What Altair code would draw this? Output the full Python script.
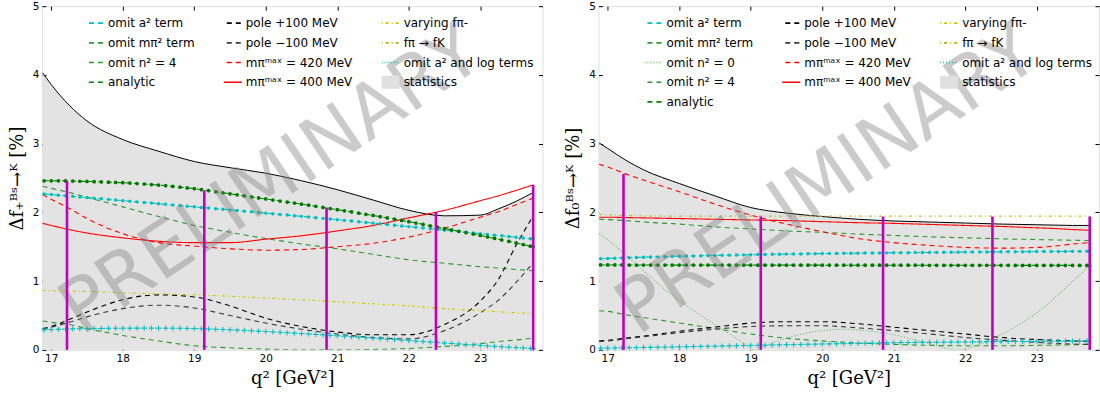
import altair as alt
import pandas as pd

# ---------------- data ----------------
Q_DENSE = [16.9, 17.0, 17.1, 17.2, 17.3, 17.4, 17.5, 17.6, 17.7, 17.8, 17.9, 18.0,
           18.1, 18.2, 18.3, 18.4, 18.5, 18.6, 18.7, 18.8, 18.9, 19.0,
           19.1, 19.2, 19.3, 19.4, 19.5, 19.6, 19.7, 19.8, 19.9, 20.0,
           20.1, 20.2, 20.3, 20.4, 20.5, 20.6, 20.7, 20.8, 20.9, 21.0,
           21.1, 21.2, 21.3, 21.4, 21.5, 21.6, 21.7, 21.8, 21.9, 22.0,
           22.1, 22.2, 22.3, 22.4, 22.5, 22.6, 22.7, 22.8, 22.9, 23.0,
           23.1, 23.2, 23.3, 23.4, 23.5, 23.6, 23.7, 23.74]

Q_C = [16.88, 17.0, 17.25, 17.5, 18.0, 18.5, 19.0, 19.5, 20.0, 20.5, 21.0, 21.5,
       22.0, 22.5, 23.0, 23.25, 23.5, 23.74]

# left panel (f+)
L_AN = [2.460, 2.460, 2.459, 2.458, 2.456, 2.453, 2.450, 2.447, 2.443, 2.439, 2.436, 2.432,
        2.426, 2.419, 2.412, 2.405, 2.398, 2.388, 2.378, 2.367, 2.356, 2.345,
        2.330, 2.315, 2.300, 2.285, 2.270, 2.255, 2.240, 2.225, 2.210, 2.195,
        2.180, 2.165, 2.150, 2.135, 2.120, 2.104, 2.088, 2.072, 2.056, 2.040,
        2.023, 2.006, 1.989, 1.972, 1.955, 1.937, 1.919, 1.901, 1.883, 1.865,
        1.845, 1.825, 1.805, 1.785, 1.765, 1.745, 1.725, 1.705, 1.685, 1.665,
        1.643, 1.621, 1.599, 1.577, 1.555, 1.532, 1.509, 1.500]
L_A2 = [2.268, 2.259, 2.250, 2.242, 2.233, 2.224, 2.215, 2.206, 2.198, 2.189, 2.180, 2.171,
        2.162, 2.153, 2.144, 2.135, 2.126, 2.117, 2.108, 2.099, 2.090, 2.081,
        2.072, 2.063, 2.054, 2.045, 2.036, 2.026, 2.017, 2.008, 1.998, 1.989,
        1.980, 1.970, 1.961, 1.951, 1.942, 1.932, 1.923, 1.913, 1.904, 1.894,
        1.884, 1.874, 1.864, 1.854, 1.844, 1.834, 1.824, 1.814, 1.803, 1.793,
        1.783, 1.772, 1.762, 1.752, 1.741, 1.731, 1.721, 1.710, 1.700, 1.690,
        1.679, 1.669, 1.659, 1.648, 1.638, 1.628, 1.617, 1.613]
L_LOG = [0.290, 0.295, 0.299, 0.302, 0.305, 0.307, 0.309, 0.311, 0.312, 0.313, 0.314, 0.315,
         0.315, 0.316, 0.316, 0.316, 0.316, 0.315, 0.315, 0.314, 0.312, 0.310,
         0.307, 0.304, 0.300, 0.296, 0.292, 0.287, 0.282, 0.277, 0.272, 0.267,
         0.261, 0.255, 0.249, 0.243, 0.237, 0.231, 0.225, 0.219, 0.212, 0.205,
         0.198, 0.191, 0.184, 0.177, 0.170, 0.163, 0.156, 0.149, 0.142, 0.135,
         0.128, 0.121, 0.114, 0.107, 0.100, 0.093, 0.086, 0.079, 0.072, 0.065,
         0.058, 0.051, 0.045, 0.039, 0.033, 0.027, 0.021, 0.018]
L_STAT = [4.03, 3.86, 3.56, 3.33, 3.06, 2.89, 2.74, 2.65, 2.57, 2.46, 2.33, 2.18, 2.03, 1.95, 1.96, 2.05, 2.16, 2.29]
L_M2 = [2.38, 2.35, 2.29, 2.22, 2.08, 1.94, 1.81, 1.71, 1.62, 1.54, 1.47, 1.39, 1.31, 1.26, 1.21, 1.19, 1.17, 1.15]
L_N4 = [0.42, 0.40, 0.37, 0.31, 0.21, 0.13, 0.06, 0.03, 0.01, 0.0, 0.0, 0.005, 0.02, 0.05, 0.09, 0.12, 0.145, 0.17]
L_PP = [0.31, 0.34, 0.44, 0.55, 0.73, 0.80, 0.77, 0.64, 0.46, 0.34, 0.26, 0.22, 0.22, 0.37, 0.71, 1.02, 1.52, 1.95]
L_PM = [0.30, 0.33, 0.40, 0.48, 0.60, 0.65, 0.61, 0.50, 0.39, 0.30, 0.23, 0.18, 0.16, 0.28, 0.54, 0.72, 0.98, 1.27]
L_R420 = [2.26, 2.19, 2.06, 1.91, 1.69, 1.56, 1.51, 1.47, 1.45, 1.46, 1.50, 1.55, 1.64, 1.77, 1.93, 2.01, 2.11, 2.21]
L_R400 = [1.84, 1.81, 1.75, 1.70, 1.63, 1.58, 1.56, 1.56, 1.61, 1.66, 1.73, 1.81, 1.92, 2.03, 2.17, 2.24, 2.32, 2.40]
L_VF = [0.865, 0.86, 0.855, 0.85, 0.83, 0.815, 0.80, 0.78, 0.755, 0.73, 0.70, 0.67, 0.64, 0.60, 0.57, 0.555, 0.54, 0.53]

# right panel (f0)
R_AN = [1.235, 1.235, 1.235, 1.235, 1.234, 1.234, 1.234, 1.234, 1.234, 1.234, 1.233, 1.233,
        1.233, 1.233, 1.233, 1.233, 1.233, 1.233, 1.233, 1.233, 1.233, 1.233,
        1.232, 1.232, 1.232, 1.232, 1.232, 1.232, 1.232, 1.232, 1.232, 1.232,
        1.231, 1.231, 1.231, 1.231, 1.231, 1.231, 1.231, 1.231, 1.231, 1.231,
        1.231, 1.231, 1.231, 1.231, 1.230, 1.230, 1.230, 1.230, 1.230, 1.230,
        1.230, 1.230, 1.230, 1.230, 1.230, 1.230, 1.229, 1.229, 1.229, 1.229,
        1.229, 1.229, 1.229, 1.229, 1.229, 1.228, 1.228, 1.228]
R_A2 = [1.326, 1.330, 1.334, 1.338, 1.341, 1.344, 1.347, 1.350, 1.353, 1.356, 1.359, 1.362,
        1.364, 1.367, 1.369, 1.372, 1.374, 1.376, 1.378, 1.380, 1.382, 1.384,
        1.386, 1.388, 1.390, 1.391, 1.393, 1.395, 1.396, 1.398, 1.399, 1.401,
        1.402, 1.403, 1.405, 1.406, 1.407, 1.408, 1.409, 1.410, 1.411, 1.412,
        1.413, 1.414, 1.415, 1.416, 1.417, 1.418, 1.419, 1.420, 1.421, 1.422,
        1.423, 1.424, 1.425, 1.425, 1.426, 1.427, 1.428, 1.428, 1.429, 1.430,
        1.430, 1.431, 1.432, 1.432, 1.433, 1.433, 1.434, 1.434]
R_LOG = [0.024, 0.026, 0.028, 0.030, 0.031, 0.033, 0.035, 0.037, 0.038, 0.040, 0.042, 0.044,
         0.046, 0.048, 0.050, 0.052, 0.054, 0.056, 0.058, 0.060, 0.063, 0.065,
         0.067, 0.069, 0.071, 0.073, 0.075, 0.077, 0.079, 0.081, 0.083, 0.085,
         0.087, 0.089, 0.091, 0.093, 0.095, 0.097, 0.099, 0.101, 0.103, 0.104,
         0.106, 0.107, 0.108, 0.109, 0.110, 0.111, 0.112, 0.113, 0.114, 0.115,
         0.116, 0.117, 0.118, 0.119, 0.120, 0.121, 0.122, 0.122, 0.123, 0.124,
         0.125, 0.126, 0.126, 0.127, 0.128, 0.129, 0.130, 0.130]
R_STAT = [3.01, 2.93, 2.76, 2.62, 2.42, 2.24, 2.07, 1.99, 1.94, 1.90, 1.875, 1.86, 1.845, 1.83, 1.82, 1.815, 1.81, 1.81]
R_M2 = [1.90, 1.895, 1.88, 1.86, 1.83, 1.79, 1.76, 1.73, 1.71, 1.685, 1.665, 1.645, 1.63, 1.615, 1.605, 1.60, 1.595, 1.59]
R_N4 = [0.57, 0.56, 0.51, 0.47, 0.39, 0.31, 0.23, 0.17, 0.13, 0.10, 0.08, 0.065, 0.06, 0.06, 0.065, 0.07, 0.075, 0.08]
R_PP = [0.13, 0.14, 0.17, 0.20, 0.27, 0.33, 0.39, 0.41, 0.41, 0.38, 0.33, 0.28, 0.23, 0.18, 0.15, 0.14, 0.13, 0.125]
R_PM = [0.12, 0.13, 0.16, 0.19, 0.25, 0.30, 0.34, 0.35, 0.35, 0.32, 0.28, 0.23, 0.18, 0.14, 0.11, 0.095, 0.085, 0.08]
R_R420 = [2.70, 2.66, 2.56, 2.47, 2.30, 2.12, 1.96, 1.83, 1.72, 1.62, 1.56, 1.52, 1.49, 1.48, 1.49, 1.51, 1.54, 1.56]
R_R400 = [1.93, 1.93, 1.925, 1.92, 1.91, 1.90, 1.89, 1.88, 1.865, 1.85, 1.84, 1.825, 1.81, 1.795, 1.775, 1.765, 1.75, 1.74]
R_VF = [1.97, 1.965, 1.955, 1.95, 1.945, 1.945, 1.945, 1.945, 1.945, 1.945, 1.945, 1.945, 1.945, 1.945, 1.945, 1.945, 1.945, 1.945]
Q_N0 = [16.88, 17.0, 17.23, 17.5, 17.8, 18.0, 18.3, 18.6, 18.9, 19.05, 19.3, 19.6, 20.0, 20.3, 20.6,
        21.0, 21.4, 21.9, 22.2, 22.5, 22.8, 23.1, 23.4, 23.74]
R_N0 = [1.69, 1.60, 1.40, 1.15, 0.88, 0.72, 0.50, 0.30, 0.10, 0.0, 0.10, 0.20, 0.28, 0.30, 0.28,
        0.22, 0.12, 0.0, 0.08, 0.22, 0.40, 0.62, 0.90, 1.23]

# systematic-spread markers (vertical magenta bars)
MAG_Q = [17.22, 19.14, 20.85, 22.38, 23.74]
L_MAG = [2.46, 2.32, 2.07, 2.01, 2.40]
R_MAG = [2.56, 1.94, 1.94, 1.94, 1.94]

TICKS_X = [17, 18, 19, 20, 21, 22, 23]
TICKS_Y = [0, 1, 2, 3, 4, 5]
WATERMARK = "PRELIMINARY"

# ---------------- series names & styles ----------------
A2 = "omit a² term"
M2 = "omit mπ² term"
N0 = "omit n² = 0"
N4 = "omit n² = 4"
AN = "analytic"
PP = "pole +100 MeV"
PM = "pole −100 MeV"
R420 = "mπᵐᵃˣ = 420 MeV"
R400 = "mπᵐᵃˣ = 400 MeV"
VF = "varying fπ-"
FK = "fπ → fK"
LOG = "omit a² and log terms"
ST = "statistics"

STYLE = {
    A2: ("#00bfbf", [5, 4]),
    M2: ("#2f962f", [5, 4]),
    N0: ("#5cb85c", [1, 2]),
    N4: ("#2f962f", [5, 4]),
    AN: ("#008000", [5, 4]),
    PP: ("#000000", [5, 4]),
    PM: ("#3a3a3a", [5, 4]),
    R420: ("#ff0000", [5, 4]),
    R400: ("#ff0000", [1, 0]),
    VF: ("#c8c800", [3, 3, 1, 3]),
    FK: ("#b4b400", [3, 3, 1, 3]),
    LOG: ("#00bfbf", [1, 2]),
    ST: ("#e0e0e0", [1, 0]),
}

# legend domain order (entries are laid out column by column)
LEFT_ORDER = [A2, M2, N4, AN, PP, PM, R420, R400, VF, FK, LOG, ST]
RIGHT_ORDER = [A2, M2, N0, N4, ST, PP, PM, R420, R400, AN, VF, FK, LOG]

SANS = "DejaVu Sans"
SERIF = "DejaVu Serif"
XDOM = [16.87, 23.87]
INWARD = {"expr": "-4"}


def long_df(pairs):
    frames = []
    for name, qs, vs in pairs:
        frames.append(pd.DataFrame({"q": qs, "v": vs, "series": name}))
    return pd.concat(frames, ignore_index=True)


def xenc(kind=None, field="q"):
    sc = alt.Scale(domain=XDOM, nice=False, zero=False)
    if kind == "main":
        ax = alt.Axis(values=TICKS_X, format="d", title="q² [GeV²]", titleFont=SERIF,
                      titleFontSize=18, titleFontWeight="normal", titleColor="black",
                      titlePadding=5, labelFont=SANS, labelFontSize=10.5, labelColor="black",
                      labelPadding=8, domain=False, grid=False, tickSize=INWARD,
                      tickColor="black", tickWidth=1)
        return alt.X(f"{field}:Q", scale=sc, axis=ax)
    if kind == "top":
        ax = alt.Axis(orient="top", values=TICKS_X, labels=False, title="", domain=False,
                      grid=False, tickSize=INWARD, tickColor="black", tickWidth=1, titlePadding=0)
        return alt.X(f"{field}:Q", scale=sc, axis=ax)
    return alt.X(f"{field}:Q", scale=sc, axis=None)


def yenc(kind=None, field="v", title=""):
    sc = alt.Scale(domain=[0, 5], nice=False, zero=False)
    if kind == "main":
        ax = alt.Axis(values=TICKS_Y, format="d", title=title, titleFont=SERIF,
                      titleFontSize=18, titleFontWeight="normal", titleColor="black",
                      titlePadding=6, labelFont=SANS, labelFontSize=10.5, labelColor="black",
                      labelPadding=7, domain=False, grid=False, tickSize=INWARD,
                      tickColor="black", tickWidth=1)
        return alt.Y(f"{field}:Q", scale=sc, axis=ax)
    if kind == "right":
        ax = alt.Axis(orient="right", values=TICKS_Y, labels=False, title="", domain=False,
                      grid=False, tickSize=INWARD, tickColor="black", tickWidth=1, titlePadding=0)
        return alt.Y(f"{field}:Q", scale=sc, axis=ax)
    return alt.Y(f"{field}:Q", scale=sc, axis=None)


def panel(stat, lines, dense_pairs, mag_top, order, ytitle, legend_x):
    stat_df = pd.DataFrame({"q": Q_C, "v": stat})
    lines_df = long_df(lines + dense_pairs)
    dense_df = long_df(dense_pairs)
    mag_df = pd.DataFrame({"q": MAG_Q, "top": mag_top})
    wm_df = pd.DataFrame({"q": [20.08], "v": [2.45], "t": [WATERMARK]})

    leg = alt.Legend(
        title=None, orient="none", legendX=legend_x, legendY=9, columns=3,
        columnPadding=29, rowPadding=3.7, clipHeight=16, symbolSize=576,
        symbolType="stroke", labelFont=SANS, labelFontSize=12,
        labelColor="black", labelOffset=10, labelLimit=400,
        symbolStrokeWidth={"expr": f"datum.value === '{ST}' ? 13 : 1.6"},
    )
    colors = [STYLE[n][0] for n in order]
    dashes = [STYLE[n][1] for n in order]

    area = alt.Chart(stat_df).mark_area(color="#e3e3e3", interpolate="monotone").encode(
        x=xenc("main"), y=yenc("main", title=ytitle))
    statline = alt.Chart(stat_df).mark_line(color="black", strokeWidth=1,
                                            interpolate="monotone").encode(x=xenc(), y=yenc())
    curves = alt.Chart(lines_df).mark_line(interpolate="monotone", clip=True, strokeWidth=1.1).encode(
        x=xenc(), y=yenc(),
        color=alt.Color("series:N", scale=alt.Scale(domain=order, range=colors), legend=leg),
        strokeDash=alt.StrokeDash("series:N", scale=alt.Scale(domain=order, range=dashes), legend=leg),
    )
    dots_a2 = alt.Chart(dense_df).transform_filter(
        alt.FieldEqualPredicate(field="series", equal=A2)
    ).mark_circle(size=12, color="#00bfbf", opacity=1).encode(x=xenc(), y=yenc())
    dots_an = alt.Chart(dense_df).transform_filter(
        alt.FieldEqualPredicate(field="series", equal=AN)
    ).mark_circle(size=14, color="#007800", opacity=1).encode(x=xenc(), y=yenc())
    plus_log = alt.Chart(dense_df).transform_filter(
        alt.FieldEqualPredicate(field="series", equal=LOG)
    ).mark_point(shape="M-1,0H1M0,-1V1", size=28, color="#00bfbf", filled=False,
                 strokeWidth=1, opacity=1).encode(x=xenc(), y=yenc())
    wm = alt.Chart(wm_df).mark_text(angle=326, fontSize=74, font=SANS, color="#808080",
                                    opacity=0.4, align="center", baseline="middle").encode(
        x=xenc(), y=yenc(), text="t:N")
    mag = alt.Chart(mag_df).mark_rule(color="#bf00bf", strokeWidth=2.6).encode(
        x=xenc("top"), y=yenc("right", field="top"), y2=alt.Y2Datum(0))

    return alt.layer(area, statline, curves, dots_a2, dots_an, plus_log, wm, mag).resolve_axis(
        x="independent", y="independent").properties(width=501, height=344)


left = panel(
    L_STAT,
    [(M2, Q_C, L_M2), (N4, Q_C, L_N4), (PP, Q_C, L_PP), (PM, Q_C, L_PM),
     (R420, Q_C, L_R420), (R400, Q_C, L_R400), (VF, Q_C, L_VF)],
    [(A2, Q_DENSE, L_A2), (AN, Q_DENSE, L_AN), (LOG, Q_DENSE, L_LOG)],
    L_MAG, LEFT_ORDER, "Δf₊ᴮˢ→ᴷ [%]", 44)

right = panel(
    R_STAT,
    [(M2, Q_C, R_M2), (N4, Q_C, R_N4), (N0, Q_N0, R_N0), (PP, Q_C, R_PP), (PM, Q_C, R_PM),
     (R420, Q_C, R_R420), (R400, Q_C, R_R400), (VF, Q_C, R_VF)],
    [(A2, Q_DENSE, R_A2), (AN, Q_DENSE, R_AN), (LOG, Q_DENSE, R_LOG)],
    R_MAG, RIGHT_ORDER, "Δf₀ᴮˢ→ᴷ [%]", 46)

chart = alt.hconcat(left, right, spacing=20).resolve_scale(
    x="independent", y="independent", color="independent", strokeDash="independent"
).resolve_legend(
    color="independent", strokeDash="independent"
).properties(
    padding={"left": 7, "top": 0, "right": 0, "bottom": 0}
).configure_view(stroke="black", strokeWidth=1).configure(background="white")

chart.save("out.html", embed_options={"renderer": "svg", "actions": False})
